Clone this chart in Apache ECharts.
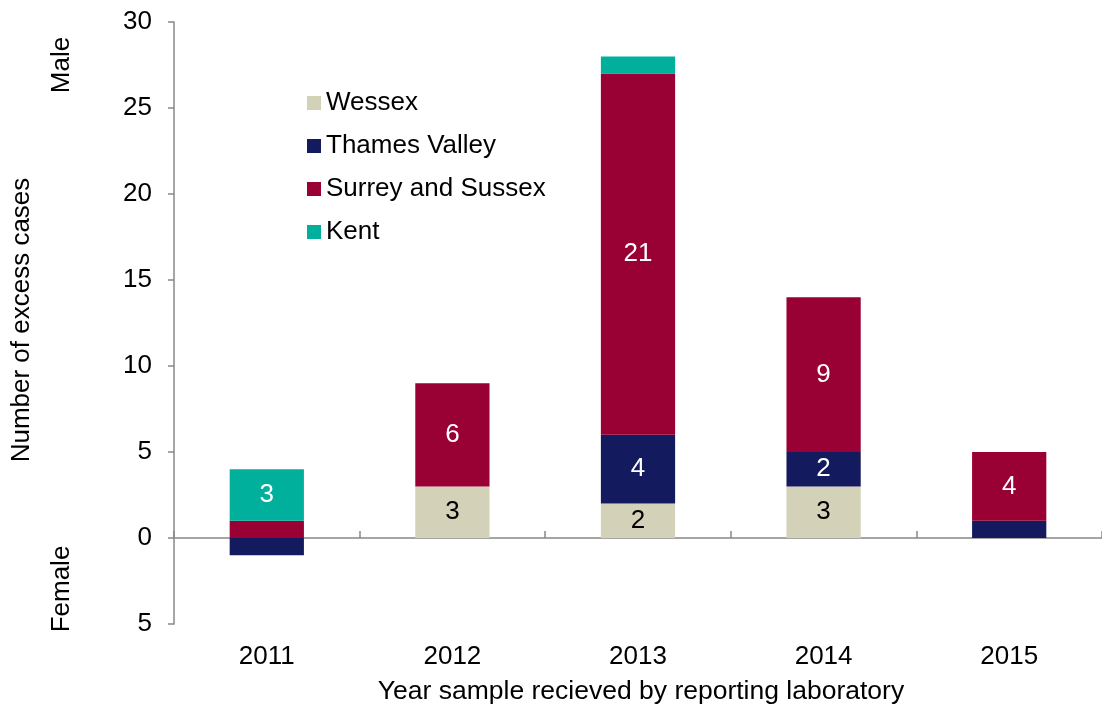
<!DOCTYPE html>
<html>
<head>
<meta charset="utf-8">
<script src="https://cdn.jsdelivr.net/npm/echarts@6/dist/echarts.min.js"></script>
<style>
  html, body { margin: 0; padding: 0; background: #fff; }
  #chart { width: 1102px; height: 713px; }
</style>
</head>
<body>
<div id="chart"></div>
<script>
// years on the x axis
var years = ['2011', '2012', '2013', '2014', '2015'];
// excess cases per region (negative = female)
var wessex = [0, 3, 2, 3, 0];
var thamesValley = [-1, 0, 4, 2, 1];
var surreySussex = [1, 6, 21, 9, 4];
var kent = [3, 0, 1, 0, 0];

var font = '"Liberation Sans", Arial, sans-serif';
var fs = 26;

function barLabel(color) {
  return {
    show: true,
    position: 'inside',
    color: color,
    fontFamily: font,
    fontSize: fs,
    formatter: function (p) { return Math.abs(p.value) >= 2 ? Math.abs(p.value) : ''; }
  };
}

function makeSeries(name, data, color, labelColor) {
  return {
    name: name,
    type: 'bar',
    stack: 'total',
    barWidth: '40%',
    data: data,
    itemStyle: { color: color },
    label: barLabel(labelColor)
  };
}

var chart = echarts.init(document.getElementById('chart'));
chart.setOption({
  animation: false,
  textStyle: { fontFamily: font },
  grid: { left: 174, top: 22, width: 934, height: 602 },
  legend: {
    orient: 'vertical',
    left: 302,
    top: 85,
    itemWidth: 14,
    itemHeight: 14,
    itemGap: 17,
    icon: 'rect',
    textStyle: { fontFamily: font, fontSize: fs, color: '#000' },
    data: ['Wessex', 'Thames Valley', 'Surrey and Sussex', 'Kent']
  },
  xAxis: [{
    type: 'category',
    data: years,
    position: 'bottom',
    axisLine: { show: false, onZero: false },
    axisTick: { show: false },
    axisLabel: { color: '#000', fontSize: fs, margin: 20 }
  }, {
    type: 'category',
    data: years,
    axisLine: { show: true, onZero: true, lineStyle: { color: '#888', width: 1.5 } },
    axisTick: { show: true, inside: false, length: 7, lineStyle: { color: '#888', width: 1.5 } },
    axisLabel: { show: false }
  }],
  yAxis: {
    type: 'value',
    min: -5,
    max: 30,
    interval: 5,
    axisLine: { show: true, lineStyle: { color: '#888', width: 1.5 } },
    axisTick: { show: true, length: 6, lineStyle: { color: '#888', width: 1.5 } },
    splitLine: { show: false },
    axisLabel: {
      color: '#000',
      fontSize: fs,
      margin: 22,
      formatter: function (v) { return Math.abs(v); }
    }
  },
  graphic: [
    {
      type: 'text', x: 22, y: 320, rotation: Math.PI / 2,
      style: { text: 'Number of excess cases', font: fs + 'px ' + font, fill: '#000', align: 'center', verticalAlign: 'middle' }
    },
    {
      type: 'text', x: 62, y: 65, rotation: Math.PI / 2,
      style: { text: 'Male', font: fs + 'px ' + font, fill: '#000', align: 'center', verticalAlign: 'middle' }
    },
    {
      type: 'text', x: 62, y: 589, rotation: Math.PI / 2,
      style: { text: 'Female', font: fs + 'px ' + font, fill: '#000', align: 'center', verticalAlign: 'middle' }
    },
    {
      type: 'text', x: 641, y: 692,
      style: { text: 'Year sample recieved by reporting laboratory', font: '26.5px ' + font, fill: '#000', align: 'center', verticalAlign: 'middle' }
    }
  ],
  series: [
    makeSeries('Wessex', wessex, '#D3D1B7', '#000'),
    makeSeries('Thames Valley', thamesValley, '#141A5E', '#fff'),
    makeSeries('Surrey and Sussex', surreySussex, '#990033', '#fff'),
    makeSeries('Kent', kent, '#00B09D', '#fff')
  ]
});
</script>
</body>
</html>
